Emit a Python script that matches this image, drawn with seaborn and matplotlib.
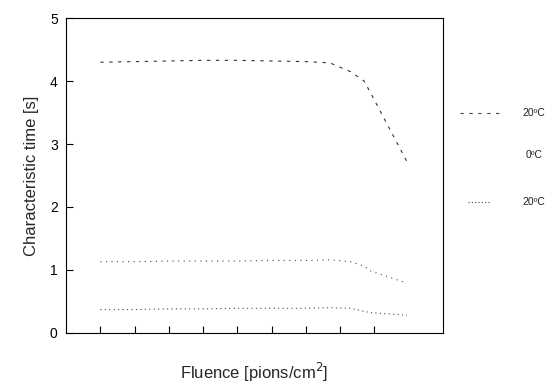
import matplotlib
matplotlib.use("Agg")
import matplotlib.pyplot as plt
import seaborn as sns
import pandas as pd
from matplotlib.lines import Line2D

sns.set_theme(style="white")
plt.rcParams['font.family'] = ['Liberation Sans', 'DejaVu Sans']

# data
fluence = [1, 2, 3, 4, 5, 6, 7, 7.7, 8.3, 8.7, 8.9, 9.95]
t_top = [4.30, 4.31, 4.32, 4.33, 4.33, 4.32, 4.31, 4.29, 4.15, 4.00, 3.80, 2.72]
t_mid = [1.13, 1.13, 1.14, 1.14, 1.14, 1.15, 1.15, 1.16, 1.13, 1.06, 0.98, 0.79]
t_bot = [0.37, 0.37, 0.38, 0.38, 0.39, 0.39, 0.39, 0.40, 0.39, 0.34, 0.32, 0.28]
legend_labels = ["20ºC", "0ºC", "20ºC"]
y_ticks = [0, 1, 2, 3, 4, 5]
x_ticks = [1, 2, 3, 4, 5, 6, 7, 8, 9]

fig = plt.figure(figsize=(5.6, 3.87), dpi=100)
ax = fig.add_axes([0.118, 0.140, 0.673, 0.813])

df_top = pd.DataFrame({"x": fluence, "y": t_top})
df_mid = pd.DataFrame({"x": fluence, "y": t_mid})
df_bot = pd.DataFrame({"x": fluence, "y": t_bot})

sns.lineplot(data=df_top, x="x", y="y", ax=ax, color="#333333", lw=0.8,
             linestyle=(0, (3, 5)), legend=False)
sns.lineplot(data=df_mid, x="x", y="y", ax=ax, color="#444444", lw=0.8,
             linestyle=(0, (1, 4)), legend=False)
sns.lineplot(data=df_bot, x="x", y="y", ax=ax, color="#444444", lw=0.8,
             linestyle=(0, (1, 3)), legend=False)

ax.set_xlim(0, 11)
ax.set_ylim(0, 5)
ax.set_xticks(x_ticks)
ax.set_xticklabels([])
ax.set_yticks(y_ticks)
ax.set_yticklabels([str(v) for v in y_ticks], fontsize=10)
ax.tick_params(axis='both', direction='in', length=5, width=0.8, colors='black',
               bottom=True, left=True, pad=6)
for s in ax.spines.values():
    s.set_color('black')
    s.set_linewidth(0.8)
ax.set_xlabel("Fluence [pions/cm$^2$]", fontsize=12, labelpad=14)
ax.set_ylabel("Characteristic time [s]", fontsize=12, labelpad=8)

# legend outside on the right
rows_y = [1 - 113/387, 1 - 155/387, 1 - 202/387]
styles = [(0, (3, 5)), None, (0, (1, 2))]
xs = [(460/560, 500/560), None, (468/560, 490/560)]
for yy, st, xx, lab in zip(rows_y, styles, xs, legend_labels):
    if st is not None:
        fig.add_artist(Line2D([xx[0], xx[1]], [yy, yy], transform=fig.transFigure,
                              color="#444444", lw=0.8, linestyle=st))
    fig.text(522/560 if lab != "0ºC" else 526/560, yy, lab, fontsize=7.5,
             va='center', ha='left', color='#222222')

fig.savefig("out.png", dpi=100)
